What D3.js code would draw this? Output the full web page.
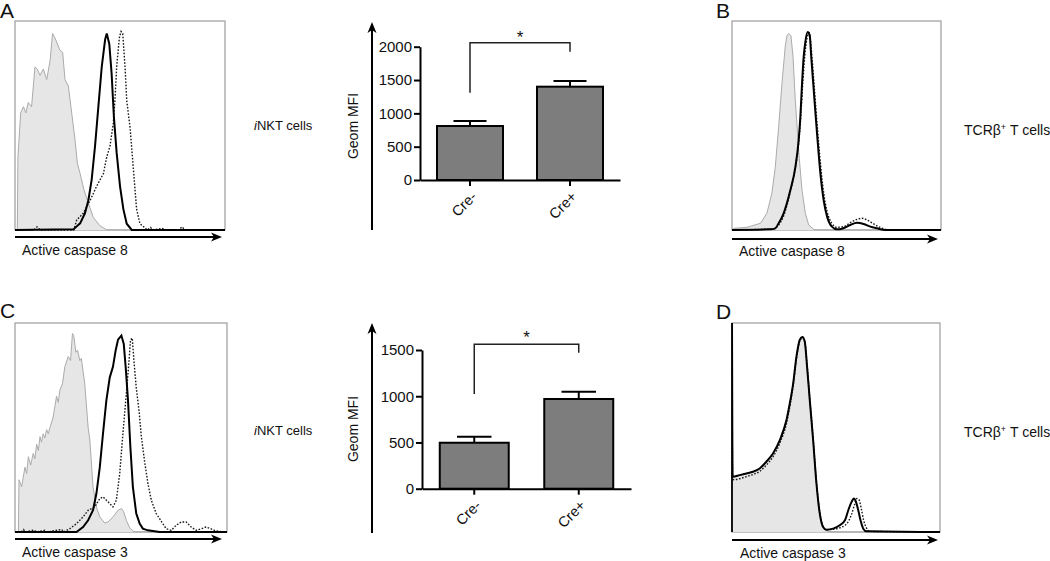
<!DOCTYPE html>
<html>
<head>
<meta charset="utf-8">
<script src="https://cdn.jsdelivr.net/npm/d3@7"></script>
<style>
  html, body { margin: 0; padding: 0; background: #fff; }
  svg { display: block; font-family: "Liberation Sans", Arial, Helvetica, sans-serif; }
</style>
</head>
<body>
<svg id="fig" width="1050" height="561"></svg>
<script>
// ---------------- DATA ----------------
// Histogram curves: [channel position (0-100 of axis), % of max]
const grayA = [[0,0],[1.1,0],[1.4,35],[2.7,56],[4,59],[5.2,56],[6.3,61],[7.9,59],[9.5,78],[10.6,77],[11.9,74],[13.5,77],[15.1,72],[16.7,81],[17.9,94],[19,92],[20.2,89],[21.4,86],[22.7,85],[23.8,72],[25.4,69],[27,56],[28.6,43],[29.7,32],[31,27],[32.9,19],[34.9,13],[37.3,6],[40.5,2],[43.7,0],[100,0]];
const solidA = [[0,0],[27.8,0.3],[31,3.2],[33.3,8],[34.9,14],[36.5,24],[38.1,40],[39.7,59],[41.3,78],[42.9,91],[43.7,94],[44.9,89],[46,75],[47.1,54],[48.4,37],[50,21],[51.6,10],[53.2,3],[55.6,0],[100,0]];
const dottedA = [[0,0],[9,0],[10.5,1.5],[12,0],[28,0],[29.4,4.8],[32.5,8],[35.7,14],[38.9,21],[42.1,27],[43.7,35],[45.2,40],[46.8,51],[47.6,62],[48.4,78],[49.7,92],[50.5,95],[51.3,94],[52.4,78],[53.2,62],[54.8,49],[56.3,30],[57.9,10],[59.5,3],[61.9,1],[63,0],[64.5,1.2],[66,0],[70,0.8],[72,0],[78,0],[79.5,1.5],[81,0],[100,0]];

const grayB = [[0,0],[0.8,0.8],[7.2,1.3],[13.6,3.2],[16.7,8],[19.1,17.6],[20.7,30],[22.3,49],[23.9,70],[25.5,88],[26.3,93],[27.1,94],[28.2,93],[29.2,83],[30.3,62],[31.9,38],[33.5,19],[35.1,8],[36.7,2.4],[39.1,0.3],[41,0],[100,0]];
const solidB = [[0,0],[18.3,0.3],[20.7,0.8],[22.3,3.2],[24.7,8],[27.9,19],[30.3,30],[31.9,43],[32.7,54],[33.5,70],[34.3,83],[35.1,90],[36.2,94.7],[37.2,93],[37.9,83],[39.1,67],[40.7,46],[42.3,27],[43.9,14],[45.5,6.4],[47.8,1.6],[50.2,0.3],[52.6,0.6],[56.6,2.4],[59.8,3.5],[63,2.9],[66.2,1.6],[69.4,0.8],[73.4,0],[100,0]];
const dottedB = [[0,0],[19.9,0.6],[22.3,2.4],[24.7,6.7],[27.9,18.4],[30.3,29.6],[31.9,41.6],[33,56],[34,72],[35.1,86],[36.2,93],[37,94.4],[37.8,88],[39.1,72],[40.7,51],[42.3,32],[43.9,17.6],[45.5,8.8],[47.8,3.2],[50.2,1.3],[53.4,1.6],[56.6,3.5],[59.8,5.1],[62.2,5.6],[64.6,4.8],[67.8,2.9],[70.8,1.3],[75,0],[100,0]];

const grayC = [[0,0],[1.6,0],[1.9,25],[3.1,21.6],[4.7,31],[5.5,28],[6.3,36],[7.4,32],[8.6,37.6],[9.4,35],[10.2,42],[11,39],[11.8,45.6],[12.5,43],[13.3,47],[14.1,45],[14.9,49],[15.7,47],[16.5,50],[18,55],[19.6,65],[20.4,62],[21.2,68],[22.4,71],[23.5,79],[25.1,84],[26.2,82],[27.1,95],[27.7,94],[28.7,86],[29.5,87],[30.6,82],[31.3,83],[32.9,71],[34.5,50],[35.3,44],[36.8,21.6],[38.4,12],[40,7.2],[42.3,4.3],[43.9,4.8],[46.2,7.2],[48.6,10.4],[50.2,11.2],[51.3,9.6],[52.5,5.6],[54.1,2],[55.6,0.5],[57,0],[100,0]];
const solidC = [[0,0],[29,0],[32.1,2.4],[34.5,5.6],[36.8,10.4],[38.4,18.4],[40,31],[41.5,47],[43.1,63],[44.7,74],[46.2,79],[47.5,87],[48.6,92],[49.4,93],[50.2,94],[51.3,90],[52.2,79],[53.3,63],[54.4,41],[55.6,21.6],[57.2,8.8],[58.8,4],[60.3,1.6],[62.7,0.8],[68.2,0],[100,0]];
const dottedC = [[0,0],[3,0],[4,1.2],[5,0],[9,1],[10,0],[14,0.8],[15,0],[22,1.2],[23,0],[25.9,1.6],[29,4],[32.1,7.2],[34.5,10.4],[36.1,11.2],[37.6,12],[40,16],[41.5,16.8],[43.1,15.2],[44.7,13.6],[46.2,12],[47.8,15.2],[49.4,28],[50.9,47],[52.5,66],[53.8,82],[54.5,92],[55.3,92.8],[56.1,82],[57.2,69],[58.5,58],[59.6,45.6],[61.1,34],[62.7,23.2],[64.3,15.2],[66.6,8.8],[68.2,6.4],[69.7,4],[71.3,1.6],[73.7,0.8],[76,3.2],[78.4,4.8],[80.7,4.8],[83.1,2.4],[85.4,0.8],[87.8,1.5],[90.1,2.4],[92.5,1.5],[94.8,0.5],[98.7,0],[100,0]];

const grayD = [[0,26.4],[3.7,27.2],[6.9,28],[10.1,28.8],[13.3,30.4],[16.5,33.6],[19.7,37.6],[23,44],[26.2,53.6],[27.8,61.6],[29.4,71],[31,84],[32.6,92],[33.9,93.3],[35,91],[36.1,79],[37.4,63],[39,44],[40.6,23.2],[42.2,8.8],[43.8,2.4],[45.4,0.5],[48,0],[100,0]];
const solidD = [[0,100],[0.3,26.4],[3.7,27.2],[6.9,28],[10.1,28.8],[13.3,30.4],[16.5,33.6],[19.7,37.6],[23,44],[26.2,53.6],[27.8,61.6],[29.4,71],[31,84],[32.6,92],[33.9,93.3],[35,91],[36.1,79],[37.4,63],[39,44],[40.6,23.2],[42.2,8.8],[43.8,2.4],[45.4,1.1],[48.6,1.6],[51.8,3.2],[54.3,5.6],[55.9,10.4],[57.5,14.4],[58.6,16],[59.6,14.4],[60.7,10.4],[61.8,5.6],[63.1,1.6],[64.7,0.3],[100,0]];
const dottedD = [[0,100],[0.3,25],[3.7,25.5],[6.9,26.5],[10.1,27.5],[13.3,29],[16.5,32],[19.7,36],[23,42.5],[26.2,52],[27.8,60],[29.4,70],[31,83],[32.6,91.5],[33.9,93],[35,91],[36.1,80],[37.4,64],[39,45],[40.6,24],[42.2,9.5],[43.8,2.6],[45.4,1.1],[48.6,1.3],[51.8,2],[54.3,3.2],[55.9,5],[57.5,8.5],[58.9,13],[60,16],[61,15.5],[62.2,11],[63.3,5.5],[64.6,2],[66.3,0.3],[100,0]];

// Bar charts (Geom MFI, mean and SEM)
const groups = ["Cre-", "Cre+"];
const casp8Mean = [810, 1400];
const casp8Err = [75, 85];
const casp8Ticks = [0, 500, 1000, 1500, 2000];
const casp3Mean = [497, 970];
const casp3Err = [65, 79];
const casp3Ticks = [0, 500, 1000, 1500];
// significance brackets: [bar level, left leg end, right leg end, star level]
const casp8Sig = [2060, 1310, 1925, 2210];
const casp3Sig = [1562, 1025, 1471, 1680];

const panelLetters = ["A", "B", "C", "D"];
const xLabels = ["Active caspase 8", "Active caspase 8", "Active caspase 3", "Active caspase 3"];

// ---------------- DRAW ----------------
const svg = d3.select("#fig");
const defs = svg.append("defs");

function arrowH(g, x0, x1, y) {
  g.append("line").attr("x1", x0).attr("x2", x1 - 5).attr("y1", y).attr("y2", y)
    .attr("stroke", "#000").attr("stroke-width", 2);
  g.append("path").attr("d", `M${x1},${y} L${x1-11},${y-4.5} L${x1-8},${y} L${x1-11},${y+4.5} Z`)
    .attr("fill", "#000");
}
function arrowV(g, x, y0, y1) {
  g.append("line").attr("x1", x).attr("x2", x).attr("y1", y0).attr("y2", y1 + 5)
    .attr("stroke", "#000").attr("stroke-width", 2);
  g.append("path").attr("d", `M${x},${y1} L${x-4.5},${y1+11} L${x},${y1+8} L${x+4.5},${y1+11} Z`)
    .attr("fill", "#000");
}

const histPanels = [
  { letter: panelLetters[0], lx: 0, ly: 18, box: [15, 21, 210, 209], arrowY: 237, arrowEnd: 222, label: xLabels[0], labX: 22, labY: 255,
    gray: grayA, solid: solidA, dotted: dottedA, leftDark: false, curve: d3.curveLinear },
  { letter: panelLetters[1], lx: 716, ly: 18, box: [732, 21, 209, 209], arrowY: 239, arrowEnd: 938, label: xLabels[1], labX: 739, labY: 256,
    gray: grayB, solid: solidB, dotted: dottedB, leftDark: false, curve: d3.curveMonotoneX },
  { letter: panelLetters[2], lx: 0, ly: 318, box: [15, 323, 212, 209], arrowY: 539, arrowEnd: 222, label: xLabels[2], labX: 22, labY: 557,
    gray: grayC, solid: solidC, dotted: dottedC, leftDark: false, curve: d3.curveLinear },
  { letter: panelLetters[3], lx: 716, ly: 319, box: [732, 323, 208, 209], arrowY: 540, arrowEnd: 938, label: xLabels[3], labX: 740, labY: 558,
    gray: grayD, solid: solidD, dotted: dottedD, leftDark: true, curve: d3.curveMonotoneX }
];

histPanels.forEach((p, i) => {
  const [bx, by, bw, bh] = p.box;
  const g = svg.append("g");
  const x = d3.scaleLinear().domain([0, 100]).range([bx, bx + bw]);
  const y = d3.scaleLinear().domain([0, 100]).range([by + bh, by]);

  defs.append("clipPath").attr("id", "clip" + i)
    .append("rect").attr("x", bx).attr("y", by).attr("width", bw).attr("height", bh + 2);

  // frame
  g.append("rect").attr("x", bx).attr("y", by).attr("width", bw).attr("height", bh)
    .attr("fill", "none").attr("stroke", "#9c9c9c").attr("stroke-width", 1.2);

  const cg = g.append("g").attr("clip-path", `url(#clip${i})`);
  const area = d3.area().x(d => x(d[0])).y0(y(0)).y1(d => y(d[1])).curve(d3.curveLinear);
  const line = d3.line().x(d => x(d[0])).y(d => y(d[1])).curve(p.curve);

  cg.append("path").datum(p.gray).attr("d", area).attr("fill", "#e6e6e6").attr("stroke", "none");
  cg.append("path").datum(p.gray).attr("d", d3.line().x(d => x(d[0])).y(d => y(d[1])))
    .attr("fill", "none").attr("stroke", "#ababab").attr("stroke-width", 1);
  cg.append("path").datum(p.dotted).attr("d", line)
    .attr("fill", "none").attr("stroke", "#1a1a1a").attr("stroke-width", 1.4).attr("stroke-dasharray", "1.6,1.6");
  cg.append("path").datum(p.solid).attr("d", line)
    .attr("fill", "none").attr("stroke", "#000").attr("stroke-width", 2);

  if (p.leftDark) {
    g.append("line").attr("x1", bx).attr("x2", bx).attr("y1", by).attr("y2", by + bh)
      .attr("stroke", "#000").attr("stroke-width", 1.8);
  }

  arrowH(g, bx, p.arrowEnd, p.arrowY);
  g.append("text").attr("x", p.labX).attr("y", p.labY).attr("font-size", 14).attr("fill", "#111").text(p.label);
  g.append("text").attr("x", p.lx).attr("y", p.ly).attr("font-size", 21).attr("fill", "#111").text(p.letter);
});

// cell population labels
function inkt(x, yb) {
  const t = svg.append("text").attr("x", x).attr("y", yb).attr("font-size", 13).attr("fill", "#111");
  t.append("tspan").attr("font-style", "italic").text("i");
  t.append("tspan").text("NKT cells");
}
function tcr(x, yb) {
  const t = svg.append("text").attr("x", x).attr("y", yb).attr("font-size", 14).attr("fill", "#111");
  t.append("tspan").text("TCRβ");
  t.append("tspan").attr("font-size", 9).attr("dy", -5).text("+");
  t.append("tspan").attr("dy", 5).text(" T cells");
}
inkt(254, 130);
inkt(254, 435);
tcr(964, 135);
tcr(964, 437);

// bar charts
const barPanels = [
  { mean: casp8Mean, err: casp8Err, ticks: casp8Ticks, sig: casp8Sig, axisX: 420, y0: 180, yTop: 46.7, domTop: 2000,
    xEnd: 620, arrowX: 372, arrowBottom: 230, arrowTop: 22, titleY: 126 },
  { mean: casp3Mean, err: casp3Err, ticks: casp3Ticks, sig: casp3Sig, axisX: 422, y0: 488.7, yTop: 350, domTop: 1500,
    xEnd: 631, arrowX: 372, arrowBottom: 533, arrowTop: 323, titleY: 429 }
];

barPanels.forEach(p => {
  const g = svg.append("g");
  const y = d3.scaleLinear().domain([0, p.domTop]).range([p.y0, p.yTop]);
  const x = d3.scaleBand().domain(groups).range([p.axisX, p.xEnd]).paddingInner(0.34).paddingOuter(0.17);
  const bw = x.bandwidth();

  // bars
  g.selectAll("rect.bar").data(groups).enter().append("rect")
    .attr("x", d => x(d)).attr("width", bw)
    .attr("y", (d, i) => y(p.mean[i])).attr("height", (d, i) => y(0) - y(p.mean[i]))
    .attr("fill", "#7d7d7d").attr("stroke", "#000").attr("stroke-width", 2);

  // error bars (upper only)
  groups.forEach((d, i) => {
    const cx = x(d) + bw / 2;
    g.append("line").attr("x1", cx).attr("x2", cx).attr("y1", y(p.mean[i]))
      .attr("y2", y(p.mean[i] + p.err[i])).attr("stroke", "#000").attr("stroke-width", 2);
    g.append("line").attr("x1", cx - bw * 0.25).attr("x2", cx + bw * 0.25)
      .attr("y1", y(p.mean[i] + p.err[i])).attr("y2", y(p.mean[i] + p.err[i]))
      .attr("stroke", "#000").attr("stroke-width", 2);
  });

  // y axis
  const ya = g.append("g").attr("transform", `translate(${p.axisX},0)`)
    .call(d3.axisLeft(y).tickValues(p.ticks).tickFormat(d3.format("d")).tickSize(6).tickSizeOuter(0).tickPadding(2));
  ya.select(".domain").attr("stroke-width", 2);
  ya.selectAll(".tick line").attr("stroke-width", 2);
  ya.selectAll(".tick text").attr("font-size", 15).attr("fill", "#111").attr("font-family", "Liberation Sans, Arial, sans-serif");

  // x axis
  const xa = g.append("g").attr("transform", `translate(0,${p.y0})`)
    .call(d3.axisBottom(x).tickSize(6).tickSizeOuter(0));
  xa.select(".domain").attr("stroke-width", 2);
  xa.selectAll(".tick line").attr("stroke-width", 2);
  xa.selectAll(".tick text")
    .attr("font-size", 14.5).attr("fill", "#111").attr("font-family", "Liberation Sans, Arial, sans-serif")
    .attr("text-anchor", "end").attr("dy", "0.35em").attr("y", 0)
    .attr("transform", "translate(4,14) rotate(-45)");

  // significance bracket
  const c1 = x(groups[0]) + bw / 2, c2 = x(groups[1]) + bw / 2;
  const [hb, l1, l2, st] = p.sig;
  g.append("path").attr("d", `M${c1},${y(l1)} L${c1},${y(hb)} L${c2},${y(hb)} L${c2},${y(l2)}`)
    .attr("fill", "none").attr("stroke", "#222").attr("stroke-width", 1.5);
  g.append("text").attr("x", (c1 + c2) / 2).attr("y", y(st) + 10).attr("text-anchor", "middle")
    .attr("font-size", 17).attr("fill", "#111").text("*");

  // outer arrow and title
  arrowV(g, p.arrowX, p.arrowBottom, p.arrowTop);
  g.append("text").attr("transform", `translate(358,${p.titleY}) rotate(-90)`)
    .attr("text-anchor", "middle").attr("font-size", 14).attr("fill", "#111").text("Geom MFI");
});
</script>
</body>
</html>
